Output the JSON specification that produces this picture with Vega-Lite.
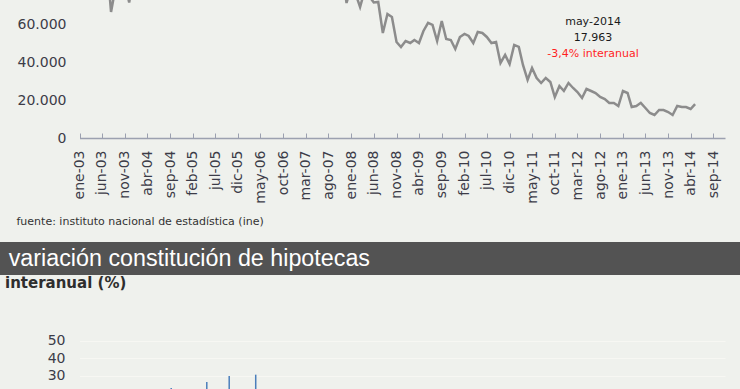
{
  "$schema": "https://vega.github.io/schema/vega-lite/v6.json",
  "background": "#eff1ed",
  "padding": 0,
  "config": {
    "view": {"stroke": null},
    "font": "DejaVu Sans",
    "axis": {"labelFont": "DejaVu Sans", "labelColor": "#3c3c48", "labelFontSize": 14, "labelOverlap": false, "labelSeparation": 0},
    "axisX": {"labelOverlap": false},
    "locale": {
      "number": {"decimal": ",", "thousands": ".", "grouping": [3], "currency": ["", " €"]},
      "time": {
        "dateTime": "%A, %e de %B de %Y, %X",
        "date": "%d/%m/%Y",
        "time": "%H:%M:%S",
        "periods": ["AM", "PM"],
        "days": ["domingo", "lunes", "martes", "miércoles", "jueves", "viernes", "sábado"],
        "shortDays": ["dom", "lun", "mar", "mié", "jue", "vie", "sáb"],
        "months": ["enero", "febrero", "marzo", "abril", "mayo", "junio", "julio", "agosto", "septiembre", "octubre", "noviembre", "diciembre"],
        "shortMonths": ["ene", "feb", "mar", "abr", "may", "jun", "jul", "ago", "sep", "oct", "nov", "dic"]
      }
    }
  },
  "datasets": {
    "hipotecas": [
      {"mes": "2003-01-01", "hipotecas": 80000}, {"mes": "2003-02-01", "hipotecas": 79000}, {"mes": "2003-03-01", "hipotecas": 83000}, {"mes": "2003-04-01", "hipotecas": 81000}, {"mes": "2003-05-01", "hipotecas": 87000}, {"mes": "2003-06-01", "hipotecas": 90000}, {"mes": "2003-07-01", "hipotecas": 96000}, {"mes": "2003-08-01", "hipotecas": 66670}, {"mes": "2003-09-01", "hipotecas": 80000}, {"mes": "2003-10-01", "hipotecas": 89000}, {"mes": "2003-11-01", "hipotecas": 82000}, {"mes": "2003-12-01", "hipotecas": 71700},
      {"mes": "2004-01-01", "hipotecas": 86000}, {"mes": "2004-02-01", "hipotecas": 88000}, {"mes": "2004-03-01", "hipotecas": 98000}, {"mes": "2004-04-01", "hipotecas": 90000}, {"mes": "2004-05-01", "hipotecas": 96000}, {"mes": "2004-06-01", "hipotecas": 104000}, {"mes": "2004-07-01", "hipotecas": 110000}, {"mes": "2004-08-01", "hipotecas": 81000}, {"mes": "2004-09-01", "hipotecas": 95000}, {"mes": "2004-10-01", "hipotecas": 100000}, {"mes": "2004-11-01", "hipotecas": 97000}, {"mes": "2004-12-01", "hipotecas": 94000},
      {"mes": "2005-01-01", "hipotecas": 96000}, {"mes": "2005-02-01", "hipotecas": 100000}, {"mes": "2005-03-01", "hipotecas": 104000}, {"mes": "2005-04-01", "hipotecas": 108000}, {"mes": "2005-05-01", "hipotecas": 115000}, {"mes": "2005-06-01", "hipotecas": 120000}, {"mes": "2005-07-01", "hipotecas": 117000}, {"mes": "2005-08-01", "hipotecas": 89000}, {"mes": "2005-09-01", "hipotecas": 110000}, {"mes": "2005-10-01", "hipotecas": 112000}, {"mes": "2005-11-01", "hipotecas": 114000}, {"mes": "2005-12-01", "hipotecas": 106000},
      {"mes": "2006-01-01", "hipotecas": 112000}, {"mes": "2006-02-01", "hipotecas": 116000}, {"mes": "2006-03-01", "hipotecas": 130000}, {"mes": "2006-04-01", "hipotecas": 104000}, {"mes": "2006-05-01", "hipotecas": 131000}, {"mes": "2006-06-01", "hipotecas": 135000}, {"mes": "2006-07-01", "hipotecas": 124000}, {"mes": "2006-08-01", "hipotecas": 94000}, {"mes": "2006-09-01", "hipotecas": 114000}, {"mes": "2006-10-01", "hipotecas": 110000}, {"mes": "2006-11-01", "hipotecas": 116000}, {"mes": "2006-12-01", "hipotecas": 106000},
      {"mes": "2007-01-01", "hipotecas": 115000}, {"mes": "2007-02-01", "hipotecas": 110000}, {"mes": "2007-03-01", "hipotecas": 121000}, {"mes": "2007-04-01", "hipotecas": 96000}, {"mes": "2007-05-01", "hipotecas": 121000}, {"mes": "2007-06-01", "hipotecas": 116000}, {"mes": "2007-07-01", "hipotecas": 111000}, {"mes": "2007-08-01", "hipotecas": 80000}, {"mes": "2007-09-01", "hipotecas": 90000}, {"mes": "2007-10-01", "hipotecas": 100000}, {"mes": "2007-11-01", "hipotecas": 88000}, {"mes": "2007-12-01", "hipotecas": 71430},
      {"mes": "2008-01-01", "hipotecas": 80000}, {"mes": "2008-02-01", "hipotecas": 76000}, {"mes": "2008-03-01", "hipotecas": 69310}, {"mes": "2008-04-01", "hipotecas": 78000}, {"mes": "2008-05-01", "hipotecas": 75000}, {"mes": "2008-06-01", "hipotecas": 71700}, {"mes": "2008-07-01", "hipotecas": 71960}, {"mes": "2008-08-01", "hipotecas": 55560}, {"mes": "2008-09-01", "hipotecas": 65610}, {"mes": "2008-10-01", "hipotecas": 64020}, {"mes": "2008-11-01", "hipotecas": 50790}, {"mes": "2008-12-01", "hipotecas": 48150},
      {"mes": "2009-01-01", "hipotecas": 51320}, {"mes": "2009-02-01", "hipotecas": 50260}, {"mes": "2009-03-01", "hipotecas": 51850}, {"mes": "2009-04-01", "hipotecas": 50260}, {"mes": "2009-05-01", "hipotecas": 56610}, {"mes": "2009-06-01", "hipotecas": 60850}, {"mes": "2009-07-01", "hipotecas": 59790}, {"mes": "2009-08-01", "hipotecas": 51320}, {"mes": "2009-09-01", "hipotecas": 61900}, {"mes": "2009-10-01", "hipotecas": 52380}, {"mes": "2009-11-01", "hipotecas": 51850}, {"mes": "2009-12-01", "hipotecas": 47090},
      {"mes": "2010-01-01", "hipotecas": 53440}, {"mes": "2010-02-01", "hipotecas": 55030}, {"mes": "2010-03-01", "hipotecas": 53970}, {"mes": "2010-04-01", "hipotecas": 50260}, {"mes": "2010-05-01", "hipotecas": 56080}, {"mes": "2010-06-01", "hipotecas": 55560}, {"mes": "2010-07-01", "hipotecas": 53440}, {"mes": "2010-08-01", "hipotecas": 50260}, {"mes": "2010-09-01", "hipotecas": 50790}, {"mes": "2010-10-01", "hipotecas": 39680}, {"mes": "2010-11-01", "hipotecas": 43920}, {"mes": "2010-12-01", "hipotecas": 39150},
      {"mes": "2011-01-01", "hipotecas": 49210}, {"mes": "2011-02-01", "hipotecas": 48150}, {"mes": "2011-03-01", "hipotecas": 38620}, {"mes": "2011-04-01", "hipotecas": 30690}, {"mes": "2011-05-01", "hipotecas": 37040}, {"mes": "2011-06-01", "hipotecas": 31750}, {"mes": "2011-07-01", "hipotecas": 29100}, {"mes": "2011-08-01", "hipotecas": 31750}, {"mes": "2011-09-01", "hipotecas": 29630}, {"mes": "2011-10-01", "hipotecas": 21690}, {"mes": "2011-11-01", "hipotecas": 27510}, {"mes": "2011-12-01", "hipotecas": 24870},
      {"mes": "2012-01-01", "hipotecas": 29100}, {"mes": "2012-02-01", "hipotecas": 26460}, {"mes": "2012-03-01", "hipotecas": 24340}, {"mes": "2012-04-01", "hipotecas": 21160}, {"mes": "2012-05-01", "hipotecas": 25930}, {"mes": "2012-06-01", "hipotecas": 24870}, {"mes": "2012-07-01", "hipotecas": 23810}, {"mes": "2012-08-01", "hipotecas": 21690}, {"mes": "2012-09-01", "hipotecas": 20630}, {"mes": "2012-10-01", "hipotecas": 18520}, {"mes": "2012-11-01", "hipotecas": 18520}, {"mes": "2012-12-01", "hipotecas": 16930},
      {"mes": "2013-01-01", "hipotecas": 24870}, {"mes": "2013-02-01", "hipotecas": 23810}, {"mes": "2013-03-01", "hipotecas": 16400}, {"mes": "2013-04-01", "hipotecas": 16930}, {"mes": "2013-05-01", "hipotecas": 18595}, {"mes": "2013-06-01", "hipotecas": 15870}, {"mes": "2013-07-01", "hipotecas": 13230}, {"mes": "2013-08-01", "hipotecas": 12170}, {"mes": "2013-09-01", "hipotecas": 14810}, {"mes": "2013-10-01", "hipotecas": 14810}, {"mes": "2013-11-01", "hipotecas": 13760}, {"mes": "2013-12-01", "hipotecas": 12170},
      {"mes": "2014-01-01", "hipotecas": 16930}, {"mes": "2014-02-01", "hipotecas": 16400}, {"mes": "2014-03-01", "hipotecas": 16400}, {"mes": "2014-04-01", "hipotecas": 15340}, {"mes": "2014-05-01", "hipotecas": 17963}
    ],
    "nota": [
      {"mes": "2012-06-14", "posicion": 61380, "texto": "may-2014", "tipo": "fecha"},
      {"mes": "2012-06-14", "posicion": 52910, "texto": "17.963", "tipo": "valor"},
      {"mes": "2012-06-14", "posicion": 44440, "texto": "-3,4% interanual", "tipo": "variación"}
    ],
    "rotulo": [{"texto": "variación constitución de hipotecas"}],
    "variacion": [
      {"mes": "2004-08-15", "variacion": 22.9},
      {"mes": "2005-04-15", "variacion": 26.4},
      {"mes": "2005-09-15", "variacion": 29.8},
      {"mes": "2006-03-15", "variacion": 30.6}
    ]
  },
  "spacing": 1,
  "vconcat": [
    {
      "spacing": 16,
      "vconcat": [
        {
          "width": 740,
          "height": 138,
          "encoding": {
            "x": {
              "field": "mes", "type": "temporal",
              "scale": {"type": "utc", "nice": false, "range": [79.5, 725],
                "domain": [{"year": 2003, "month": 1, "date": 1, "utc": true}, {"year": 2014, "month": 11, "date": 18, "utc": true}]},
              "axis": {
                "values": [
                  {"year": 2003, "month": 1, "date": 1, "utc": true}, {"year": 2003, "month": 6, "date": 1, "utc": true}, {"year": 2003, "month": 11, "date": 1, "utc": true},
                  {"year": 2004, "month": 4, "date": 1, "utc": true}, {"year": 2004, "month": 9, "date": 1, "utc": true},
                  {"year": 2005, "month": 2, "date": 1, "utc": true}, {"year": 2005, "month": 7, "date": 1, "utc": true}, {"year": 2005, "month": 12, "date": 1, "utc": true},
                  {"year": 2006, "month": 5, "date": 1, "utc": true}, {"year": 2006, "month": 10, "date": 1, "utc": true},
                  {"year": 2007, "month": 3, "date": 1, "utc": true}, {"year": 2007, "month": 8, "date": 1, "utc": true},
                  {"year": 2008, "month": 1, "date": 1, "utc": true}, {"year": 2008, "month": 6, "date": 1, "utc": true}, {"year": 2008, "month": 11, "date": 1, "utc": true},
                  {"year": 2009, "month": 4, "date": 1, "utc": true}, {"year": 2009, "month": 9, "date": 1, "utc": true},
                  {"year": 2010, "month": 2, "date": 1, "utc": true}, {"year": 2010, "month": 7, "date": 1, "utc": true}, {"year": 2010, "month": 12, "date": 1, "utc": true},
                  {"year": 2011, "month": 5, "date": 1, "utc": true}, {"year": 2011, "month": 10, "date": 1, "utc": true},
                  {"year": 2012, "month": 3, "date": 1, "utc": true}, {"year": 2012, "month": 8, "date": 1, "utc": true},
                  {"year": 2013, "month": 1, "date": 1, "utc": true}, {"year": 2013, "month": 6, "date": 1, "utc": true}, {"year": 2013, "month": 11, "date": 1, "utc": true},
                  {"year": 2014, "month": 4, "date": 1, "utc": true}, {"year": 2014, "month": 9, "date": 1, "utc": true}
                ],
                "format": "%b-%y",
                "labelAngle": -90,
                "labelAlign": "right",
                "labelBaseline": "middle",
                "labelOverlap": false,
                "labelSeparation": 0,
                "labelBound": false,
                "labelFlush": false,
                "labelPadding": 17,
                "tickSize": -5,
                "tickColor": "#9ca1b0",
                "domainColor": "#9ca1b0",
                "domainWidth": 1.5,
                "grid": false,
                "title": "fuente: instituto nacional de estadística (ine)",
                "titleX": 16,
                "titleY": 83,
                "titleAlign": "left",
                "titleBaseline": "middle",
                "titleFont": "DejaVu Sans",
                "titleFontSize": 11,
                "titleFontWeight": "normal",
                "titleColor": "#333333"
              }
            }
          },
          "layer": [
            {
              "data": {"name": "hipotecas"},
              "mark": {"type": "line", "color": "#8c8c8c", "strokeWidth": 2.5, "clip": true},
              "encoding": {
                "y": {
                  "field": "hipotecas", "type": "quantitative",
                  "scale": {"domain": [0, 73000], "nice": false},
                  "axis": {"values": [0, 20000, 40000, 60000], "format": ",d", "offset": -72, "ticks": false, "domain": false, "labelPadding": 6, "grid": false, "title": null}
                }
              }
            },
            {
              "data": {"name": "nota"},
              "mark": {"type": "text", "fontSize": 11, "font": "DejaVu Sans", "baseline": "middle", "align": "center"},
              "encoding": {
                "y": {"field": "posicion", "type": "quantitative"},
                "text": {"field": "texto"},
                "color": {"field": "tipo", "type": "nominal", "legend": null,
                  "scale": {"domain": ["fecha", "valor", "variación"], "range": ["#1a1a1a", "#1a1a1a", "#ff1f1f"]}}
              }
            }
          ]
        },
        {
          "width": 740,
          "height": 33,
          "view": {"fill": "#535353", "stroke": null},
          "data": {"name": "rotulo"},
          "mark": {"type": "text", "align": "right", "baseline": "middle", "color": "#ffffff", "fontSize": 23.3, "font": "Liberation Sans"},
          "encoding": {"text": {"field": "texto"}}
        }
      ]
    },
    {
      "width": 740,
      "height": 59,
      "title": {"text": "interanual (%)", "anchor": "start", "frame": "group", "dx": 5, "offset": 40, "fontSize": 15, "fontWeight": "bold", "font": "DejaVu Sans", "color": "#2e2e2e"},
      "data": {"name": "variacion"},
      "mark": {"type": "bar", "color": "#4a7ebb", "size": 1.5, "clip": true},
      "encoding": {
        "x": {
          "field": "mes", "type": "temporal",
          "scale": {"type": "utc", "nice": false, "range": [79.5, 725],
            "domain": [{"year": 2003, "month": 1, "date": 1, "utc": true}, {"year": 2014, "month": 11, "date": 18, "utc": true}]},
          "axis": null
        },
        "y": {
          "field": "variacion", "type": "quantitative",
          "scale": {"domain": [21.76, 55.76], "nice": false, "zero": false},
          "axis": {"values": [30, 40, 50], "offset": -71, "ticks": false, "domain": false, "labelPadding": 6, "grid": true, "gridColor": "#f7f7f3", "title": null}
        }
      }
    }
  ]
}
